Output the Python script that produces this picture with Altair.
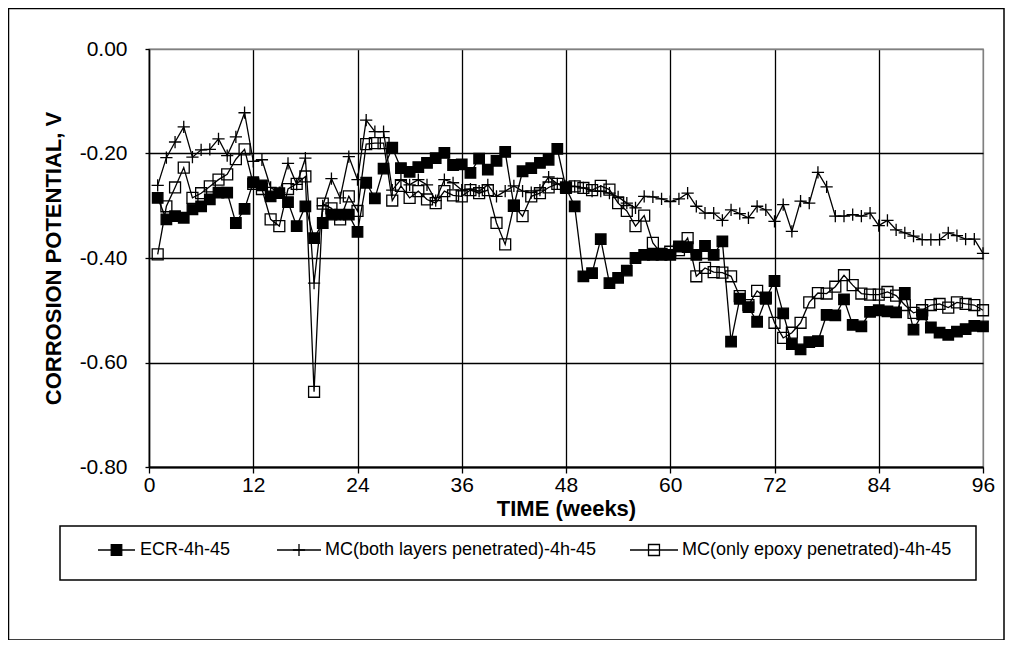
import altair as alt
import pandas as pd

# ---------------- data ----------------
series_names = [
    "ECR-4h-45",
    "MC(both layers penetrated)-4h-45",
    "MC(only epoxy penetrated)-4h-45",
]
weeks = list(range(1, 97))

ecr = [
    -0.285, -0.326, -0.320, -0.323, -0.307, -0.301, -0.288, -0.275, -0.275, -0.333,
    -0.306, -0.255, -0.261, -0.282, -0.276, -0.293, -0.339, -0.301, -0.362, -0.333,
    -0.317, -0.317, -0.317, -0.350, -0.256, -0.286, -0.229, -0.189, -0.228, -0.235,
    -0.226, -0.218, -0.209, -0.199, -0.222, -0.221, -0.237, -0.210, -0.231, -0.214,
    -0.197, -0.300, -0.234, -0.228, -0.218, -0.212, -0.191, -0.266, -0.301, -0.435,
    -0.429, -0.364, -0.448, -0.438, -0.424, -0.400, -0.394, -0.394, -0.394, -0.394,
    -0.378, -0.379, -0.394, -0.377, -0.394, -0.368, -0.560, -0.478, -0.494, -0.522,
    -0.478, -0.444, -0.506, -0.565, -0.575, -0.561, -0.559, -0.509, -0.510, -0.479,
    -0.528, -0.531, -0.503, -0.500, -0.502, -0.504, -0.467, -0.537, -0.508, -0.533,
    -0.543, -0.547, -0.541, -0.536, -0.530, -0.531,
]

mc_both = [
    -0.261, -0.208, -0.178, -0.149, -0.207, -0.193, -0.192, -0.172, -0.204, -0.168,
    -0.122, -0.215, -0.212, -0.265, -0.275, -0.219, -0.259, -0.209, -0.448, -0.300,
    -0.248, -0.285, -0.206, -0.250, -0.136, -0.158, -0.158, -0.270, -0.250, -0.260,
    -0.250, -0.260, -0.290, -0.250, -0.256, -0.270, -0.268, -0.272, -0.260, -0.282,
    -0.272, -0.262, -0.272, -0.275, -0.270, -0.245, -0.258, -0.262, -0.263, -0.266,
    -0.272, -0.272, -0.276, -0.283, -0.295, -0.304, -0.282, -0.283, -0.287, -0.292,
    -0.287, -0.276, -0.301, -0.314, -0.314, -0.328, -0.308, -0.315, -0.323, -0.301,
    -0.308, -0.330, -0.298, -0.349, -0.291, -0.295, -0.236, -0.264, -0.320, -0.320,
    -0.317, -0.320, -0.314, -0.338, -0.328, -0.346, -0.352, -0.358, -0.365, -0.365,
    -0.365, -0.352, -0.357, -0.364, -0.364, -0.391,
]

mc_epoxy = [
    -0.393, -0.301, -0.265, -0.227, -0.285, -0.276, -0.263, -0.250, -0.240, -0.211,
    -0.192, -0.258, -0.268, -0.326, -0.339, -0.268, -0.258, -0.244, -0.656, -0.296,
    -0.305, -0.326, -0.282, -0.310, -0.182, -0.180, -0.180, -0.290, -0.262, -0.285,
    -0.272, -0.288, -0.295, -0.272, -0.280, -0.282, -0.270, -0.276, -0.270, -0.333,
    -0.374, -0.300, -0.320, -0.282, -0.276, -0.265, -0.258, -0.265, -0.263, -0.266,
    -0.270, -0.262, -0.269, -0.295, -0.310, -0.339, -0.319, -0.371, -0.392, -0.388,
    -0.385, -0.362, -0.435, -0.419, -0.427, -0.428, -0.435, -0.473, -0.490, -0.463,
    -0.476, -0.524, -0.553, -0.543, -0.524, -0.485, -0.467, -0.468, -0.455, -0.433,
    -0.452, -0.468, -0.470, -0.470, -0.465, -0.472, -0.490, -0.505, -0.500, -0.490,
    -0.488, -0.495, -0.485, -0.488, -0.490, -0.500,
]

x_ticks = list(range(0, 97, 12))
y_ticks = [-0.8, -0.6, -0.4, -0.2, 0.0]

# ---------------- table ----------------
df = pd.DataFrame({
    "week": weeks * 3,
    "value": ecr + mc_both + mc_epoxy,
    "series": [n for n in series_names for _ in weeks],
})

FONT = "Liberation Sans"
CROSS = "M-1,0H1M0,-1V1"

marker_styles = [
    dict(shape="square", filled=True, fill="black", stroke="black", size=110),
    dict(shape=CROSS, filled=False, stroke="black", size=150),
    dict(shape="square", filled=False, stroke="black", size=120),
]

x_enc = alt.X(
    "week:Q",
    scale=alt.Scale(domain=[0, 96], nice=False, zero=False),
    axis=alt.Axis(
        values=x_ticks,
        title="TIME (weeks)",
        grid=True,
        gridColor={"condition": {"test": "datum.value === 96", "value": "#808080"}, "value": "black"},
        gridWidth=1.3,
        domainColor="black",
        domainWidth=2,
        tickColor="black",
        tickWidth=1.3,
        tickSize=6,
        labelPadding=1,
        labelFont=FONT,
        labelFontSize=21,
        labelColor="black",
        labelFlush=False,
        labelOverlap=False,
        titleFont=FONT,
        titleFontSize=22,
        titleFontWeight="bold",
        titleColor="black",
        titlePadding=3,
    ),
)
y_enc = alt.Y(
    "value:Q",
    scale=alt.Scale(domain=[-0.8, 0.0], nice=False, zero=False),
    axis=alt.Axis(
        values=y_ticks,
        title="CORROSION POTENTIAL, V",
        labelExpr="(datum.value < -0.0001 ? '-' : '') + format(abs(datum.value), '.2f')",
        grid=True,
        gridColor={"condition": {"test": "datum.value > -0.0001", "value": "#808080"}, "value": "black"},
        gridWidth=1.3,
        domainColor="black",
        domainWidth=1.5,
        tickColor="black",
        tickWidth=1.3,
        tickSize=4,
        labelPadding=18,
        labelFont=FONT,
        labelFontSize=21,
        labelColor="black",
        labelOverlap=False,
        titleFont=FONT,
        titleFontSize=22,
        titleFontWeight="bold",
        titleColor="black",
        titlePadding=14,
    ),
)

base = alt.Chart(df)

lines = base.mark_line(color="black", strokeWidth=1.3).encode(
    x=x_enc, y=y_enc, detail="series:N"
)

point_layers = []
for name, st in zip(series_names, marker_styles):
    pts = base.transform_filter(alt.datum.series == name).mark_point(
        opacity=1, strokeWidth=1.3, **st
    ).encode(x=alt.X("week:Q"), y=alt.Y("value:Q"))
    point_layers.append(pts)

# ---------------- frame & legend (layout only) ----------------
one = pd.DataFrame({"k": [0]})
frame = alt.Chart(one).mark_rect(filled=False, stroke="black", strokeWidth=1.5).encode(
    x=alt.value(-140.5), x2=alt.value(855), y=alt.value(-40.5), y2=alt.value(591)
)
legend_box = alt.Chart(one).mark_rect(filled=False, stroke="black", strokeWidth=1.5).encode(
    x=alt.value(-89), x2=alt.value(827), y=alt.value(477), y2=alt.value(531)
)
layers = [frame, legend_box, lines] + point_layers

leg_y = 501
leg_x1 = [-51, 128, 481]
leg_x2 = [-14, 172, 529]
leg_xt = [-9, 176, 533]
for name, st, a, b, t in zip(series_names, marker_styles, leg_x1, leg_x2, leg_xt):
    d = pd.DataFrame({"series": [name]})
    c = alt.Chart(d)
    layers.append(c.mark_rule(color="black", strokeWidth=1.3).encode(
        x=alt.value(a), x2=alt.value(b), y=alt.value(leg_y)))
    layers.append(c.mark_point(opacity=1, strokeWidth=1.3, **st).encode(
        x=alt.value((a + b) / 2), y=alt.value(leg_y)))
    layers.append(c.mark_text(align="left", baseline="middle", font=FONT, fontSize=18,
                              color="black").encode(
        x=alt.value(t), y=alt.value(leg_y), text="series:N"))

chart = alt.layer(*layers).properties(
    width=834,
    height=418,
    autosize=alt.AutoSizeParams(type="none"),
    padding={"left": 141, "top": 41, "right": 22, "bottom": 173},
    background="white",
).configure_view(stroke="#808080", strokeWidth=1.3)

chart.save("out.html", embed_options={"renderer": "svg", "actions": False})
